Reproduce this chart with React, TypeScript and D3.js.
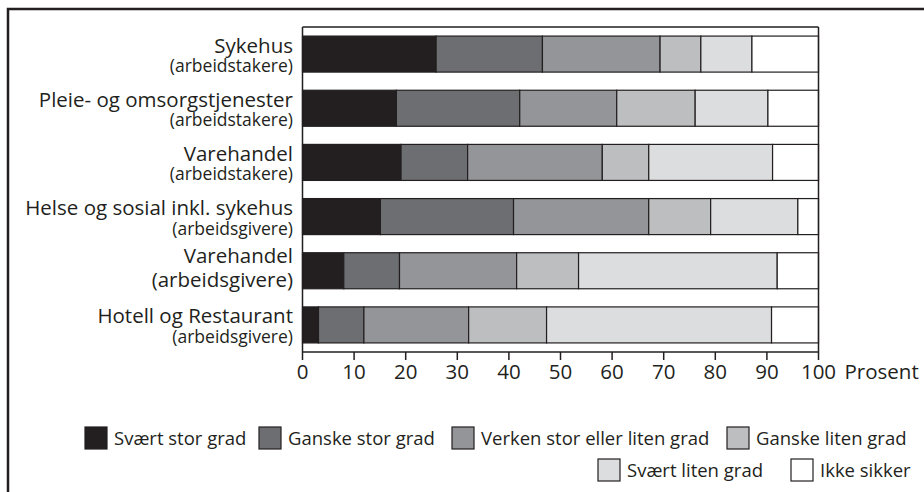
import React from "react";
import * as d3 from "d3";

const categoryIds = ["c1", "c2", "c3", "c4", "c5", "c6"];
const mainLabels = [
  "Sykehus",
  "Pleie- og omsorgstjenester",
  "Varehandel",
  "Helse og sosial inkl. sykehus",
  "Varehandel",
  "Hotell og Restaurant",
];
const subLabels = [
  "(arbeidstakere)",
  "(arbeidstakere)",
  "(arbeidstakere)",
  "(arbeidsgivere)",
  "(arbeidsgivere)",
  "(arbeidsgivere)",
];
const seriesNames = [
  "Svært stor grad",
  "Ganske stor grad",
  "Verken stor eller liten grad",
  "Ganske liten grad",
  "Svært liten grad",
  "Ikke sikker",
];
// values per category, in series order (percent)
const svaertStor = [25.9, 18.2, 19.1, 15.1, 8.0, 3.1];
const ganskeStor = [20.6, 23.9, 12.9, 25.8, 10.8, 8.8];
const verken = [22.8, 18.8, 26.1, 26.2, 22.7, 20.3];
const ganskeLiten = [7.9, 15.2, 9.0, 12.0, 12.0, 15.1];
const svaertLiten = [9.9, 14.1, 24.0, 16.9, 38.5, 43.6];
const ikkeSikker = [12.9, 9.8, 8.9, 4.0, 8.0, 9.1];
const xTicks = [0, 10, 20, 30, 40, 50, 60, 70, 80, 90, 100];
const axisTitle = "Prosent";

const colors = ["#231f20", "#6d6e71", "#939598", "#bcbec0", "#dcddde", "#ffffff"];
const ink = "#231f20";
const font = "'Open Sans', 'Noto Sans', sans-serif";

export default function App() {
  const W = 924;
  const H = 492;
  const x = d3.scaleLinear().domain([0, 100]).range([302.5, 818.5]);
  const y = d3
    .scaleBand<string>()
    .domain(categoryIds)
    .range([27, 352])
    .paddingInner(0.335)
    .paddingOuter(0.1675);

  const series = [svaertStor, ganskeStor, verken, ganskeLiten, svaertLiten, ikkeSikker];
  const rows = categoryIds.map((id, i) => {
    const r: any = { id };
    seriesNames.forEach((s, j) => (r[s] = series[j][i]));
    return r;
  });
  const stacked = d3.stack<any>().keys(seriesNames)(rows);

  // legend layout
  const legendPos = [
    { x: 85, row: 0 },
    { x: 259, row: 0 },
    { x: 452, row: 0 },
    { x: 727, row: 0 },
    { x: 598, row: 1 },
    { x: 791, row: 1 },
  ];
  const legendRowY = [427, 459];
  const sq = 22;

  const [y0, y1] = y.range();
  const xL = x(0);
  const xR = x(100);

  return (
    <svg
      width={W}
      height={H}
      style={{ position: "absolute", left: 0, top: 0, background: "#fff" }}
      fontFamily={font}
    >
      <rect x={0} y={0} width={W} height={H} fill="#fff" />
      {/* outer frame (extends beyond view) */}
      <rect x={8} y={9} width={W + 20} height={H + 20} fill="none" stroke={ink} strokeWidth={2.5} />

      {/* bars */}
      {stacked.map((layer, j) => (
        <g key={layer.key}>
          {layer.map((d, i) => (
            <rect
              key={i}
              x={x(d[0])}
              y={y(categoryIds[i])!}
              width={x(d[1]) - x(d[0])}
              height={y.bandwidth()}
              fill={colors[j]}
              stroke={ink}
              strokeWidth={1.2}
            />
          ))}
        </g>
      ))}

      {/* plot frame */}
      <line x1={xL} x2={xR} y1={y0} y2={y0} stroke={ink} strokeWidth={1.5} />
      <line x1={xR} x2={xR} y1={y0} y2={y1} stroke={ink} strokeWidth={1.5} />
      <line x1={xL} x2={xL} y1={y0} y2={y1} stroke={ink} strokeWidth={1.5} />
      <line x1={xL} x2={xR} y1={y1} y2={y1} stroke={ink} strokeWidth={1.5} />

      {/* x axis ticks */}
      {xTicks.map((t) => (
        <g key={t}>
          <line x1={x(t)} x2={x(t)} y1={y1} y2={y1 + 8} stroke={ink} strokeWidth={1.5} />
          <text x={x(t)} y={y1 + 27} textAnchor="middle" fontSize={20.5} fill={ink}>
            {t}
          </text>
        </g>
      ))}
      <text x={x(100) + 26} y={y1 + 27} fontSize={20.5} fill={ink}>
        {axisTitle}
      </text>

      {/* category labels */}
      {categoryIds.map((id, i) => {
        const c = y(id)! + y.bandwidth() / 2;
        const big = i === 4;
        return (
          <g key={id}>
            <text x={293} y={c + (big ? -8 : -1.5)} textAnchor="end" fontSize={20.5} fill={ink}>
              {mainLabels[i]}
            </text>
            <text x={293} y={big ? c + 16 : c + 18} textAnchor="end" fontSize={big ? 20.5 : 17.5} fill={ink}>
              {subLabels[i]}
            </text>
          </g>
        );
      })}

      {/* legend */}
      {seriesNames.map((s, j) => {
        const p = legendPos[j];
        const ty = legendRowY[p.row];
        return (
          <g key={s}>
            <rect x={p.x} y={ty} width={sq} height={sq} fill={colors[j]} stroke={ink} strokeWidth={1.2} />
            <text x={p.x + sq + 7} y={ty + sq / 2 + 6.5} fontSize={18.5} fill={ink}>
              {s}
            </text>
          </g>
        );
      })}
    </svg>
  );
}
